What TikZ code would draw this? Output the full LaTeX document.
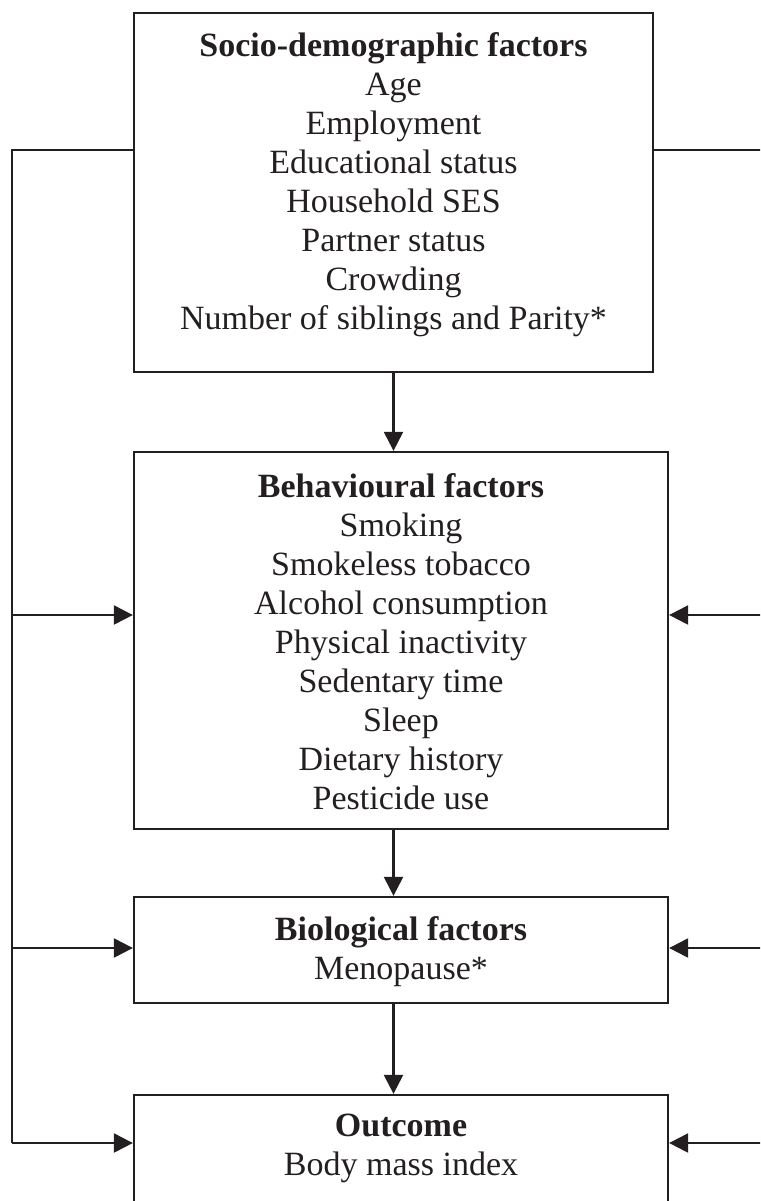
\documentclass[tikz,border=0pt]{standalone}
\usepackage{fontspec}
\setmainfont{Liberation Serif}
\usetikzlibrary{arrows.meta,calc}
\definecolor{ink}{RGB}{35,31,32}
\begin{document}
\begin{tikzpicture}[x=1pt,y=-1pt,
  box/.style={draw=ink,line width=2.3pt,inner sep=0pt,fill=none},
  txt/.style={align=center,inner sep=0pt,text=ink,font=\fontsize{34}{39}\selectfont},
  conn/.style={draw=ink,line width=2.3pt},
  arr/.style={conn,-{Triangle[length=19pt,width=19pt]}}]
\clip (0,0) rectangle (760,1201);
% boxes
\node[box,minimum width=519pt,minimum height=359pt] (soc) at (393.5,192.5) {};
\node[box,minimum width=534pt,minimum height=377pt] (beh) at (401,640.5) {};
\node[box,minimum width=534pt,minimum height=106pt] (bio) at (401,950) {};
\node[box,minimum width=534pt,minimum height=140pt] (out) at (401,1165) {};
% texts
\node[txt] (soct) at (393.5,184.5) {\textbf{Socio-demographic factors}\\Age\\Employment\\Educational status\\Household SES\\Partner status\\Crowding\\Number of siblings and Parity*};
\node[txt] (beht) at (401,641.5) {\textbf{Behavioural factors}\\Smoking\\Smokeless tobacco\\Alcohol consumption\\Physical inactivity\\Sedentary time\\Sleep\\Dietary history\\Pesticide use};
\node[txt] (biot) at (401,952) {\textbf{Biological factors}\\Menopause*};
\node[txt] (outt) at (401,1148) {\textbf{Outcome}\\Body mass index};
% vertical chain
\draw[arr] (soc.south) -- (soc.south |- beh.north);
\draw[arr] (soc.south |- beh.south) -- (soc.south |- bio.north);
\draw[arr] (soc.south |- bio.south) -- (soc.south |- out.north);
% left side
\coordinate (ltop) at (12,150);
\coordinate (lb) at (12,615);
\coordinate (lc) at (12,948);
\coordinate (ld) at (12,1143);
\draw[conn] (ltop -| soc.west) -- (ltop) -- (ld);
\draw[arr] (lb) -- (lb -| beh.west);
\draw[arr] (lc) -- (lc -| bio.west);
\draw[arr] (ld) -- (ld -| out.west);
% right side
\coordinate (rtop) at (775,150);
\coordinate (rb) at (775,615);
\coordinate (rc) at (775,948);
\coordinate (rd) at (775,1143);
\draw[conn] (rtop -| soc.east) -- (rtop) -- (rd);
\draw[arr] (rb) -- (rb -| beh.east);
\draw[arr] (rc) -- (rc -| bio.east);
\draw[arr] (rd) -- (rd -| out.east);
\end{tikzpicture}
\end{document}
